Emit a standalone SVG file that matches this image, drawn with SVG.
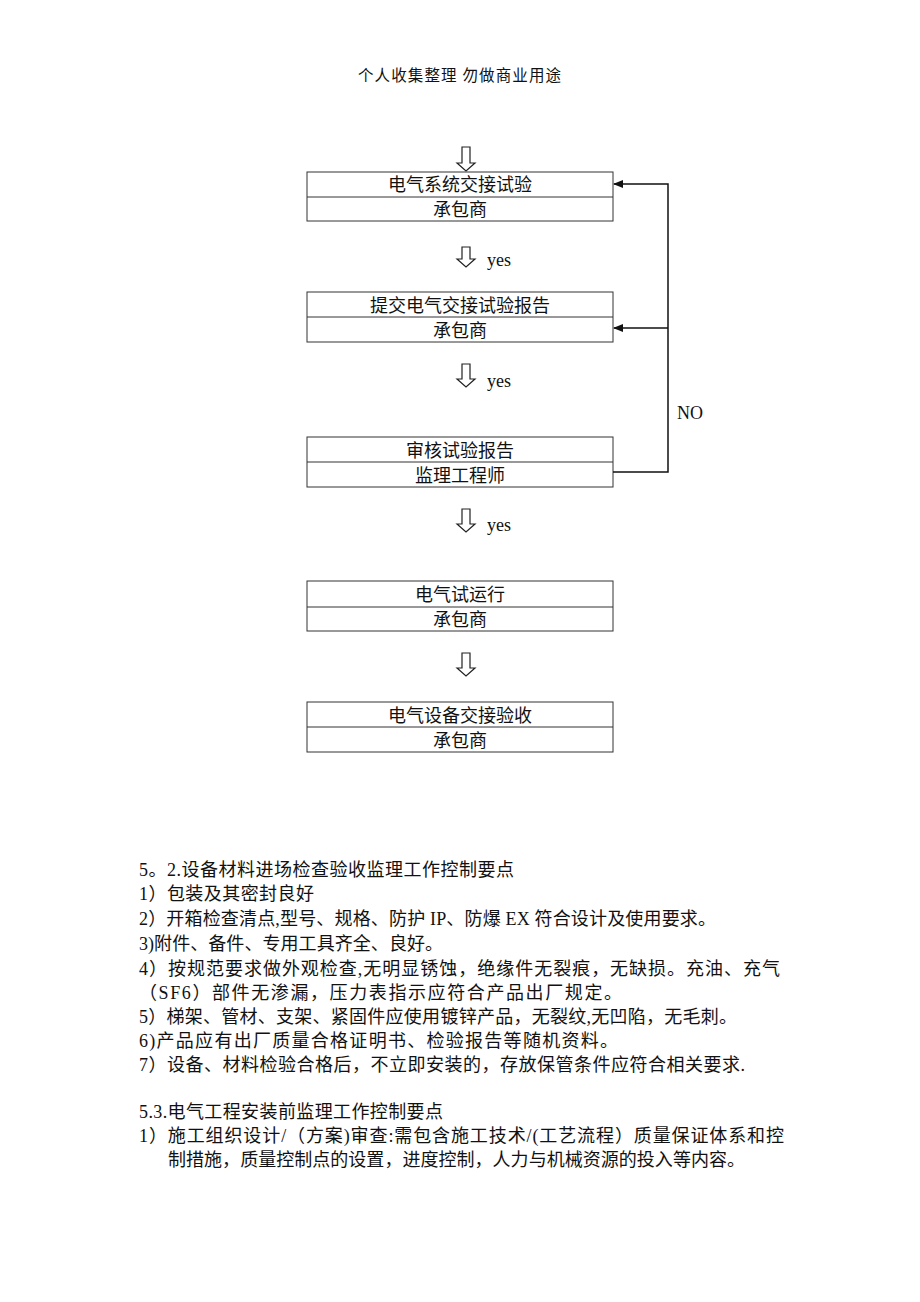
<svg xmlns="http://www.w3.org/2000/svg" width="920" height="1302" viewBox="0 0 920 1302">
<style>
.box{fill:#fff;stroke:#333;stroke-width:1}
.sep{stroke:#333;stroke-width:1}
.t{font-family:"Liberation Serif","Noto Sans CJK SC",serif;font-size:18px;fill:#111;text-anchor:middle}
.y{font-family:"Liberation Serif","Noto Sans CJK SC",serif;font-size:18px;fill:#111}
.b{font-family:"Liberation Serif","Noto Sans CJK SC",serif;font-size:18px;fill:#111}
.ha{fill:#fff;stroke:#222;stroke-width:1.2}
.ln{fill:none;stroke:#111;stroke-width:1.5}
</style>
<defs>
<marker id="ah" markerWidth="10" markerHeight="8" refX="9" refY="4" orient="auto" markerUnits="userSpaceOnUse">
<path d="M0,0 L10,4 L0,8 z" fill="#111"/>
</marker>
</defs>
<text class="b" x="358" y="81" style="font-size:15.5px" textLength="203" lengthAdjust="spacing">个人收集整理 勿做商业用途</text>

<g id="arrows">
<path class="ha" d="M462,147 L470,147 L470,163 L475,163 L466,171 L457,163 L462,163 Z"/>
<path class="ha" d="M462,247 L470,247 L470,259 L475,259 L466,267 L457,259 L462,259 Z"/>
<text class="y" x="487" y="266">yes</text>
<path class="ha" d="M462,364 L470,364 L470,379 L475,379 L466,387 L457,379 L462,379 Z"/>
<text class="y" x="487" y="387">yes</text>
<path class="ha" d="M462,509 L470,509 L470,524 L475,524 L466,532 L457,524 L462,524 Z"/>
<text class="y" x="487" y="531">yes</text>
<path class="ha" d="M462,653 L470,653 L470,668 L475,668 L466,676 L457,668 L462,668 Z"/>
</g>

<g id="node1">
<rect class="box" x="307" y="172" width="306" height="49"/>
<line class="sep" x1="307" y1="197" x2="613" y2="197"/>
<text class="t" x="460" y="191">电气系统交接试验</text>
<text class="t" x="460" y="216">承包商</text>
</g>
<g id="node2">
<rect class="box" x="307" y="292" width="306" height="50"/>
<line class="sep" x1="307" y1="317" x2="613" y2="317"/>
<text class="t" x="460" y="312">提交电气交接试验报告</text>
<text class="t" x="460" y="337">承包商</text>
</g>
<g id="node3">
<rect class="box" x="307" y="437" width="306" height="50"/>
<line class="sep" x1="307" y1="462" x2="613" y2="462"/>
<text class="t" x="460" y="457">审核试验报告</text>
<text class="t" x="460" y="482">监理工程师</text>
</g>
<g id="node4">
<rect class="box" x="307" y="581" width="306" height="50"/>
<line class="sep" x1="307" y1="607" x2="613" y2="607"/>
<text class="t" x="460" y="601">电气试运行</text>
<text class="t" x="460" y="626">承包商</text>
</g>
<g id="node5">
<rect class="box" x="307" y="702" width="306" height="50"/>
<line class="sep" x1="307" y1="727" x2="613" y2="727"/>
<text class="t" x="460" y="722">电气设备交接验收</text>
<text class="t" x="460" y="747">承包商</text>
</g>

<g id="connectors">
<polyline class="ln" points="613,472 668,472 668,184 614,184" marker-end="url(#ah)"/>
<polyline class="ln" points="668,328 614,328" marker-end="url(#ah)"/>
<text class="y" x="677" y="419">NO</text>
</g>

<g id="body">
<text class="b" x="139" y="876" textLength="375" lengthAdjust="spacing">5。2.设备材料进场检查验收监理工作控制要点</text>
<text class="b" x="139" y="900" textLength="175" lengthAdjust="spacing">1）包装及其密封良好</text>
<text class="b" x="139" y="925" textLength="577" lengthAdjust="spacing">2）开箱检查清点,型号、规格、防护 IP、防爆 EX 符合设计及使用要求。</text>
<text class="b" x="139" y="950" textLength="304" lengthAdjust="spacing">3)附件、备件、专用工具齐全、良好。</text>
<text class="b" x="139" y="975" textLength="641" lengthAdjust="spacing">4）按规范要求做外观检查,无明显锈蚀，绝缘件无裂痕，无缺损。充油、充气</text>
<text class="b" x="139" y="999" textLength="483" lengthAdjust="spacing">（SF6）部件无渗漏，压力表指示应符合产品出厂规定。</text>
<text class="b" x="139" y="1023" textLength="598" lengthAdjust="spacing">5）梯架、管材、支架、紧固件应使用镀锌产品，无裂纹,无凹陷，无毛刺。</text>
<text class="b" x="139" y="1047" textLength="479" lengthAdjust="spacing">6)产品应有出厂质量合格证明书、检验报告等随机资料。</text>
<text class="b" x="139" y="1071" textLength="606" lengthAdjust="spacing">7）设备、材料检验合格后，不立即安装的，存放保管条件应符合相关要求.</text>
<text class="b" x="139" y="1118" textLength="304" lengthAdjust="spacing">5.3.电气工程安装前监理工作控制要点</text>
<text class="b" x="139" y="1142" textLength="645" lengthAdjust="spacing">1）施工组织设计/（方案)审查:需包含施工技术/(工艺流程）质量保证体系和控</text>
<text class="b" x="168" y="1166" textLength="577" lengthAdjust="spacing">制措施，质量控制点的设置，进度控制，人力与机械资源的投入等内容。</text>
</g>
</svg>
